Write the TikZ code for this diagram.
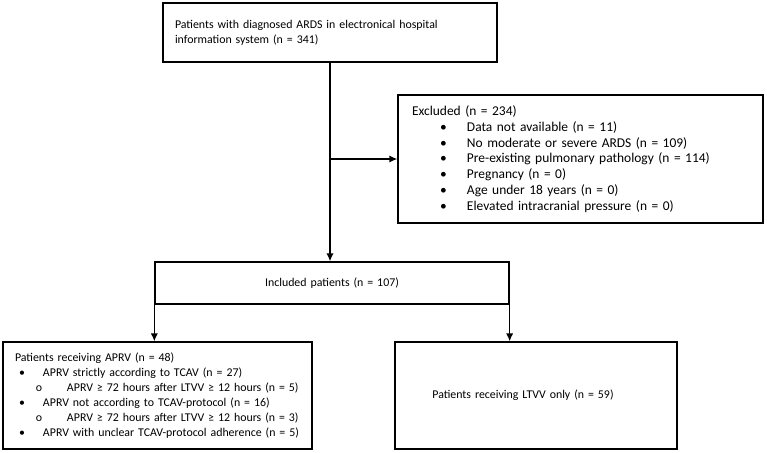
\documentclass[tikz,border=0pt]{standalone}
\usepackage{fontspec}
\setmainfont{Carlito}
\usetikzlibrary{arrows.meta,positioning}

% list markers used in the boxes
\newcommand{\exitem}[1]{\mbox{\hspace*{21pt}\makebox[20.25pt][l]{\textbullet}#1}}
\newcommand{\aprvitem}[1]{\mbox{\hspace*{3pt}\makebox[18pt][l]{\textbullet}#1}}
\newcommand{\aprvsub}[1]{\mbox{\hspace*{15.75pt}\makebox[23.25pt][l]{o}#1}}

\begin{document}
\begin{tikzpicture}[x=0.75pt,y=-0.75pt,>=Latex,
  box/.style={draw=black,line width=1pt,font=\fontsize{8.9}{11.3}\selectfont,inner xsep=9pt,inner ysep=0pt},
  arr/.style={-{Latex[length=6pt,width=5.5pt]},line width=1pt}]
\useasboundingbox (0,0) rectangle (767,453);
\node[box,text width=232.5pt,minimum height=44.25pt,align=left] (pts) at (330,32.5) {Patients with diagnosed ARDS in electronical hospital\\information system (n = 341)};
\node[box,font=\fontsize{10.1}{11.8}\selectfont,inner xsep=10.5pt,text width=252.75pt,minimum height=96pt,align=left] (excl) at (580.5,159) {Excluded (n = 234)\\
\exitem{Data not available (n = 11)}\\
\exitem{No moderate or severe ARDS (n = 109)}\\
\exitem{Pre-existing pulmonary pathology (n = 114)}\\
\exitem{Pregnancy (n = 0)}\\
\exitem{Age under 18 years (n = 0)}\\
\exitem{Elevated intracranial pressure (n = 0)}};
\node[box,text width=247.5pt,minimum height=31.5pt,align=center] (incl) at (332,283) {Included patients (n = 107)};
\node[box,text width=213.75pt,minimum height=80.25pt,align=left] (aprv) at (157.5,395.5) {Patients receiving APRV (n = 48)\\
\aprvitem{APRV strictly according to TCAV (n = 27)}\\
\aprvsub{APRV ≥ 72 hours after LTVV ≥ 12 hours (n = 5)}\\
\aprvitem{APRV not according to TCAV-protocol (n = 16)}\\
\aprvsub{APRV ≥ 72 hours after LTVV ≥ 12 hours (n = 3)}\\
\aprvitem{APRV with unclear TCAV-protocol adherence (n = 5)}};
\node[box,text width=193.5pt,minimum height=80.25pt,align=center] (ltvv) at (536,395.5) {\hspace*{-19.5pt}Patients receiving LTVV only (n = 59)};
\coordinate (split) at (pts.south |- excl.west);
\draw[arr] (pts.south) -- (pts.south |- incl.north);
\draw[arr] (split) -- (excl.west);
\draw[arr] (incl.south west) -- (incl.south west |- aprv.north);
\draw[arr] (incl.south east) -- (incl.south east |- ltvv.north);
\end{tikzpicture}
\end{document}
